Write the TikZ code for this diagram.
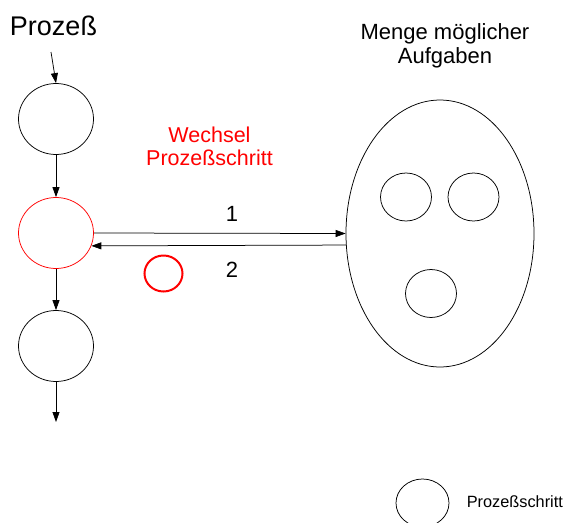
\documentclass[tikz,border=0pt]{standalone}
\usepackage{fontspec}
\setmainfont{Liberation Sans}
\usetikzlibrary{arrows.meta,shapes.geometric}
\begin{document}
\begin{tikzpicture}[x=1pt,y=-1pt,
  line width=0.75pt,
  blob/.style={draw, ellipse, inner sep=0pt, minimum width=#1},
  stepnode/.style={blob=75pt, minimum height=71pt},
  task/.style={blob=51pt, minimum height=48pt},
  flow/.style={-{Triangle[length=10pt,width=7pt]}},
  lbl/.style={font=\fontsize{21.5}{23}\selectfont, align=center, inner sep=0pt}
]
\clip (0,0) rectangle (566,523);

% process chain
\node[lbl, font=\fontsize{27}{30}\selectfont, anchor=base] (title) at (53.5,35) {Prozeß};
\coordinate (start) at (51,52);
\node[stepnode] (c1) at (56,119) {};
\node[stepnode, draw=red] (c2) at (56,233) {};
\node[stepnode] (c3) at (56,346) {};
\coordinate (end) at (56,422);

\draw[flow] (start) -- (c1.north);
\draw[flow] (c1.south) -- (c2.north);
\draw[flow] (c2.south) -- (c3.north);
\draw[flow] (c3.south) -- (end);

% set of possible tasks
\node[draw, ellipse, inner sep=0pt, minimum width=188pt, minimum height=267pt] (set) at (440,233.5) {};
\node[task] (t1) at (406,197) {};
\node[task] (t2) at (473.5,197) {};
\node[task] (t3) at (431,293.5) {};
\node[lbl, anchor=base, font=\fontsize{22}{23.5}\selectfont] (setlbl) at (445,63) {Menge möglicher\\Aufgaben};

% exchange between step and task set
\draw[flow] (c2.east) -- (set.west);
\draw[flow] (set.187.6) -- (c2.-20);
\node[lbl, anchor=base, font=\fontsize{22}{24}\selectfont] (n1) at (232,221) {1};
\node[lbl, anchor=base, font=\fontsize{22}{24}\selectfont] (n2) at (232,277) {2};
\node[lbl, anchor=base, text=red] (swap) at (209.5,165) {Wechsel\\Prozeßschritt};
\node[draw=red, ellipse, line width=2pt, inner sep=0pt, minimum width=38pt, minimum height=36pt] (mark) at (163.5,273.5) {};

% legend
\node[task, minimum width=53pt] (legc) at (422.5,503) {};
\node[lbl, anchor=base west, font=\fontsize{16.3}{18}\selectfont] (legt) at (466.5,507) {Prozeßschritt};
\end{tikzpicture}
\end{document}
